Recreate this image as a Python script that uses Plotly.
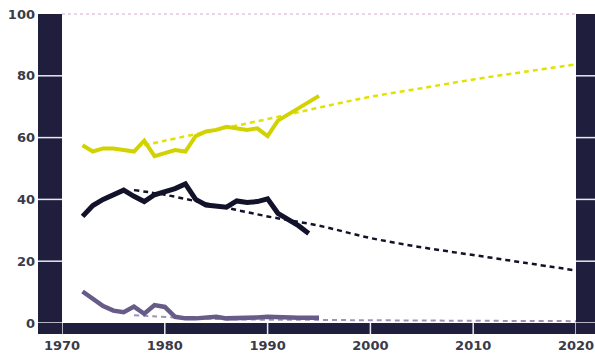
import plotly.graph_objects as go

# ---- data ----
yellow_years = [1972, 1973, 1974, 1975, 1976, 1977, 1978, 1979, 1980, 1981, 1982, 1983,
                1984, 1985, 1986, 1987, 1988, 1989, 1990, 1991, 1992, 1993, 1994, 1995]
yellow_vals = [57.5, 55.5, 56.5, 56.5, 56.0, 55.5, 59.0, 54.0, 55.0, 56.0, 55.5, 60.5,
               62.0, 62.5, 63.5, 63.0, 62.5, 63.0, 60.5, 65.5, 67.5, 69.5, 71.5, 73.5]

black_years = [1972, 1973, 1974, 1975, 1976, 1977, 1978, 1979, 1980, 1981, 1982, 1983,
               1984, 1985, 1986, 1987, 1988, 1989, 1990, 1991, 1992, 1993, 1994]
black_vals = [34.5, 38.0, 40.0, 41.5, 43.0, 41.0, 39.3, 41.5, 42.5, 43.5, 45.0, 40.0,
              38.2, 37.8, 37.5, 39.5, 39.0, 39.3, 40.2, 35.5, 33.5, 31.5, 29.0]

purple_years = [1972, 1973, 1974, 1975, 1976, 1977, 1978, 1979, 1980, 1981, 1982, 1983,
                1984, 1985, 1986, 1987, 1988, 1989, 1990, 1991, 1992, 1993, 1994, 1995]
purple_vals = [10.2, 8.0, 5.5, 4.0, 3.5, 5.3, 3.0, 5.8, 5.2, 2.0, 1.5, 1.5,
               1.7, 2.0, 1.5, 1.5, 1.5, 1.8, 2.0, 1.8, 1.8, 1.7, 1.7, 1.7]

yellow_trend_years = [1978, 1980, 1985, 1990, 1995, 2000, 2005, 2010, 2015, 2020]
yellow_trend_vals = [57.5, 59.0, 62.5, 66.0, 69.7, 73.2, 76.0, 78.8, 81.3, 83.7]

black_trend_years = [1977, 1980, 1985, 1990, 1995, 2000, 2005, 2010, 2015, 2020]
black_trend_vals = [43.0, 41.5, 38.0, 34.5, 31.5, 27.5, 24.5, 22.0, 19.5, 17.0]

purple_trend_years = [1977, 1985, 1995, 2005, 2020]
purple_trend_vals = [2.5, 1.3, 1.0, 0.8, 0.6]

x_ticks = [1970, 1980, 1990, 2000, 2010, 2020]
y_ticks = [0, 20, 40, 60, 80, 100]

# ---- styles ----
YELLOW = "#d2d200"
YELLOW_DASH = "#e2e200"
BLACK = "#12122a"
PURPLE = "#675b88"
PURPLE_DASH = "#9d93b8"
BAR = "#1f1f3d"

fig = go.Figure()
fig.add_trace(go.Scatter(x=yellow_trend_years, y=yellow_trend_vals, mode="lines",
                         line=dict(color=YELLOW_DASH, width=2.5, dash="5px,4px"), line_shape="spline"))
fig.add_trace(go.Scatter(x=black_trend_years, y=black_trend_vals, mode="lines",
                         line=dict(color=BLACK, width=2.5, dash="5px,4px"), line_shape="spline"))
fig.add_trace(go.Scatter(x=purple_trend_years, y=purple_trend_vals, mode="lines",
                         line=dict(color=PURPLE_DASH, width=2, dash="5px,4px"), line_shape="spline"))
fig.add_trace(go.Scatter(x=yellow_years, y=yellow_vals, mode="lines",
                         line=dict(color=YELLOW, width=4)))
fig.add_trace(go.Scatter(x=black_years, y=black_vals, mode="lines",
                         line=dict(color=BLACK, width=5)))
fig.add_trace(go.Scatter(x=purple_years, y=purple_vals, mode="lines",
                         line=dict(color=PURPLE, width=4.5)))

W, H = 595, 357
L, R, T, B = 62, 19, 14, 34
pw = W - L - R
ph = H - T - B
lx0 = -24 / pw
rx1 = 1 + 20 / pw
by0 = -11 / ph

shapes = [
    dict(type="rect", xref="paper", yref="paper", x0=lx0, x1=0, y0=by0, y1=1,
         fillcolor=BAR, line=dict(width=0), layer="above"),
    dict(type="rect", xref="paper", yref="paper", x0=1, x1=rx1, y0=by0, y1=1,
         fillcolor=BAR, line=dict(width=0), layer="above"),
    dict(type="rect", xref="paper", yref="paper", x0=lx0, x1=rx1, y0=by0, y1=0,
         fillcolor=BAR, line=dict(width=0), layer="above"),
    dict(type="line", xref="paper", yref="paper", x0=0, x1=1, y0=1, y1=1,
         line=dict(color="#d9a8d9", width=1, dash="dot"), layer="above"),
]
for v in y_ticks[:-1]:
    shapes.append(dict(type="line", xref="paper", yref="y", x0=lx0, x1=0, y0=v, y1=v,
                       line=dict(color="#e8e8f0", width=1.5), layer="above"))
    shapes.append(dict(type="line", xref="paper", yref="y", x0=1, x1=rx1, y0=v, y1=v,
                       line=dict(color="#e8e8f0", width=1.5), layer="above"))
for yr in x_ticks:
    shapes.append(dict(type="line", xref="x", yref="paper", x0=yr, x1=yr, y0=by0, y1=0,
                       line=dict(color="#e8e8f0", width=1.5), layer="above"))

tick_font = dict(family="DejaVu Sans", size=13, color="#3a3a48", weight="bold")

fig.update_layout(
    width=W, height=H,
    margin=dict(l=L, r=R, t=T, b=B, pad=0, autoexpand=False),
    paper_bgcolor="white", plot_bgcolor="white",
    showlegend=False,
    shapes=shapes,
    xaxis=dict(range=[1970, 2020], tickvals=x_ticks, ticktext=[str(t) for t in x_ticks],
               showgrid=False, zeroline=False, showline=False, ticks="", automargin=False,
               tickfont=tick_font, ticklabelstandoff=13),
    yaxis=dict(range=[0, 100], tickvals=y_ticks, ticktext=[str(t) for t in y_ticks],
               showgrid=False, zeroline=False, showline=False, ticks="", automargin=False,
               tickfont=tick_font, ticklabelstandoff=26),
)

fig.write_html("out.html", config={"displayModeBar": False},
               post_script="document.body.style.margin='0';document.body.style.overflow='hidden';")
